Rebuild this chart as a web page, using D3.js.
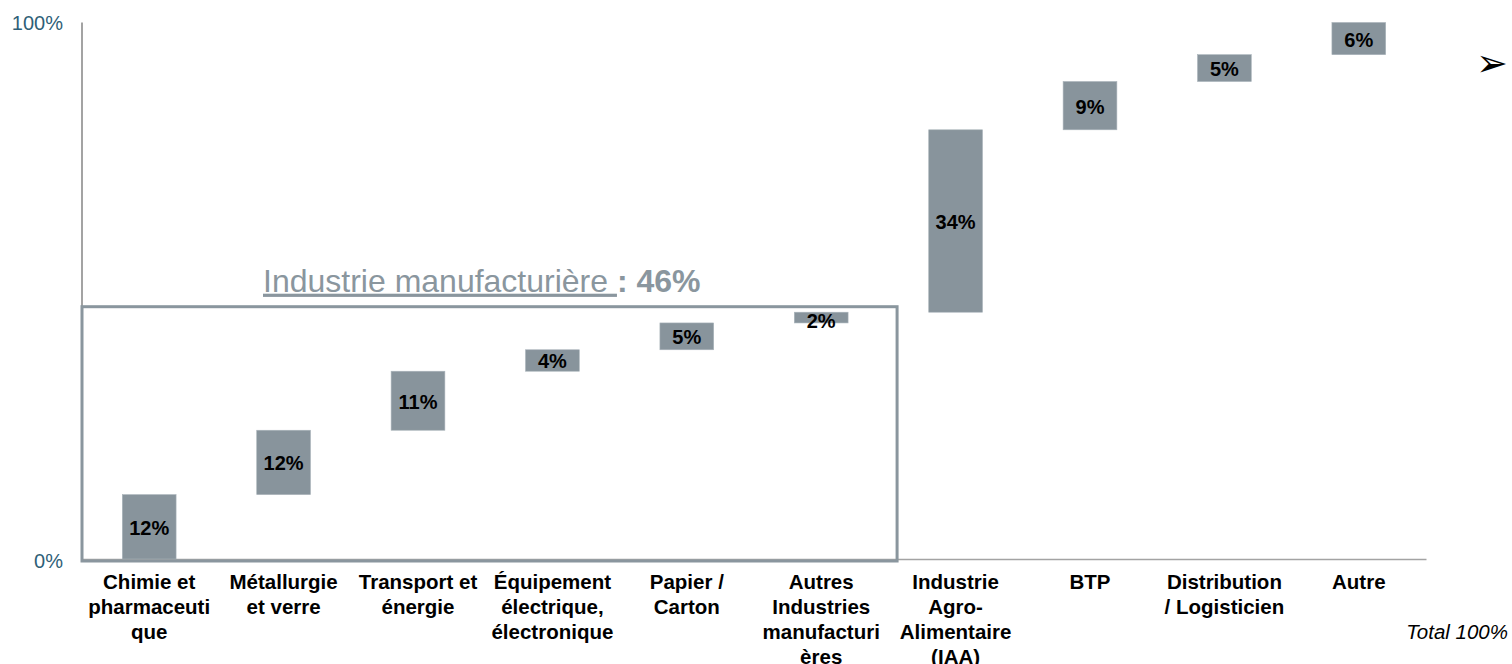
<!DOCTYPE html>
<html>
<head>
<meta charset="utf-8">
<script src="https://cdn.jsdelivr.net/npm/d3@7"></script>
<style>
  html, body { margin: 0; padding: 0; background: #fff; }
  svg { display: block; font-family: "Liberation Sans", Arial, sans-serif; }
</style>
</head>
<body>
<svg id="chart" width="1512" height="664"></svg>
<script>
// ---- data ----
const categories = [
  "Chimie et|pharmaceuti|que",
  "Métallurgie|et verre",
  "Transport et|énergie",
  "Équipement|électrique,|électronique",
  "Papier /|Carton",
  "Autres|Industries|manufacturi|ères",
  "Industrie|Agro-|Alimentaire|(IAA)",
  "BTP",
  "Distribution|/ Logisticien",
  "Autre"
];
const values = [12, 12, 11, 4, 5, 2, 34, 9, 5, 6];
const groupedCount = 6; // first six categories = Industrie manufacturière
const groupTitle = "Industrie manufacturière ";
const yTickValues = [0, 100];
const yTickLabels = ["0%", "100%"];
const totalLabel = "Total 100%";

// ---- layout ----
const svg = d3.select("#chart");
const plotLeft = 82, plotRight = 1426, plotTop = 22.5, plotBottom = 559;

const x = d3.scaleBand().domain(categories).range([plotLeft, plotRight])
  .paddingInner(0.6).paddingOuter(0.3);
const y = d3.scaleLinear().domain([0, 100]).range([plotBottom, plotTop]);

// cumulative waterfall
let acc = 0;
const bars = values.map((v, i) => { const d = { cat: categories[i], v, start: acc, end: acc + v }; acc += v; return d; });

const barColor = "#88949c";
const boxColor = "#8a969e";

// y axis line
svg.append("line").attr("x1", plotLeft).attr("x2", plotLeft).attr("y1", y(100)).attr("y2", plotBottom + 2)
  .attr("stroke", "#a3a3a3").attr("stroke-width", 2);

// y tick labels
svg.append("g").selectAll("text").data(yTickValues).join("text")
  .attr("x", 63).attr("y", d => d === 0 ? y(d) + 2 : y(d))
  .attr("text-anchor", "end").attr("dominant-baseline", "central")
  .attr("font-size", 20).attr("fill", "#2f5f78")
  .text((d, i) => yTickLabels[i]);

// x axis
const xAxis = svg.append("g").attr("transform", `translate(0,${plotBottom})`)
  .call(d3.axisBottom(x).tickSize(0).tickPadding(0));
xAxis.select(".domain").attr("stroke", "#a3a3a3").attr("stroke-width", 1.5);
xAxis.selectAll(".tick text").remove();
xAxis.selectAll(".tick").each(function(d) {
  const lines = d.split("|");
  const t = d3.select(this).append("text")
    .attr("text-anchor", "middle").attr("font-size", 20.5).attr("font-weight", "bold")
    .attr("fill", "#000").attr("font-family", "'Liberation Sans', Arial, sans-serif");
  lines.forEach((ln, k) => t.append("tspan").attr("x", 0).attr("y", 30 + k * 25).text(ln));
});

// bars
svg.append("g").selectAll("rect").data(bars).join("rect")
  .attr("x", d => x(d.cat)).attr("width", x.bandwidth())
  .attr("y", d => y(d.end)).attr("height", d => y(d.start) - y(d.end))
  .attr("fill", barColor).attr("stroke", "#a9b3ba").attr("stroke-width", 0.6);

// value labels
svg.append("g").selectAll("text").data(bars).join("text")
  .attr("x", d => x(d.cat) + x.bandwidth() / 2)
  .attr("y", d => (y(d.start) + y(d.end)) / 2 + (d.v < 3 ? 3 : 1))
  .attr("text-anchor", "middle").attr("dominant-baseline", "central")
  .attr("font-size", 20).attr("font-weight", "bold").attr("fill", "#000")
  .text(d => d.v + "%");

// grouping box
const groupSum = d3.sum(values.slice(0, groupedCount));
const lastGrouped = categories[groupedCount - 1];
const boxRight = x(lastGrouped) + x.bandwidth() + 49;
const boxTop = y(groupSum) - 5.5;
svg.append("rect").attr("x", plotLeft).attr("y", boxTop)
  .attr("width", boxRight - plotLeft).attr("height", plotBottom + 2 - boxTop)
  .attr("fill", "none").attr("stroke", boxColor).attr("stroke-width", 3);

// group title
const title = svg.append("text").attr("x", 263).attr("y", boxTop - 15)
  .attr("font-size", 32).attr("fill", boxColor);
title.append("tspan").attr("text-decoration", "underline").text(groupTitle);
title.append("tspan").attr("font-weight", "bold").text(": " + groupSum + "%");

// bullet arrow
svg.append("text").attr("x", 1476).attr("y", 76).attr("font-size", 38)
  .attr("font-family", "'DejaVu Sans', sans-serif").attr("fill", "#000").text("➢");

// total label
svg.append("text").attr("x", 1508).attr("y", 639).attr("text-anchor", "end")
  .attr("font-size", 20.5).attr("font-style", "italic").attr("fill", "#000").text(totalLabel);
</script>
</body>
</html>
